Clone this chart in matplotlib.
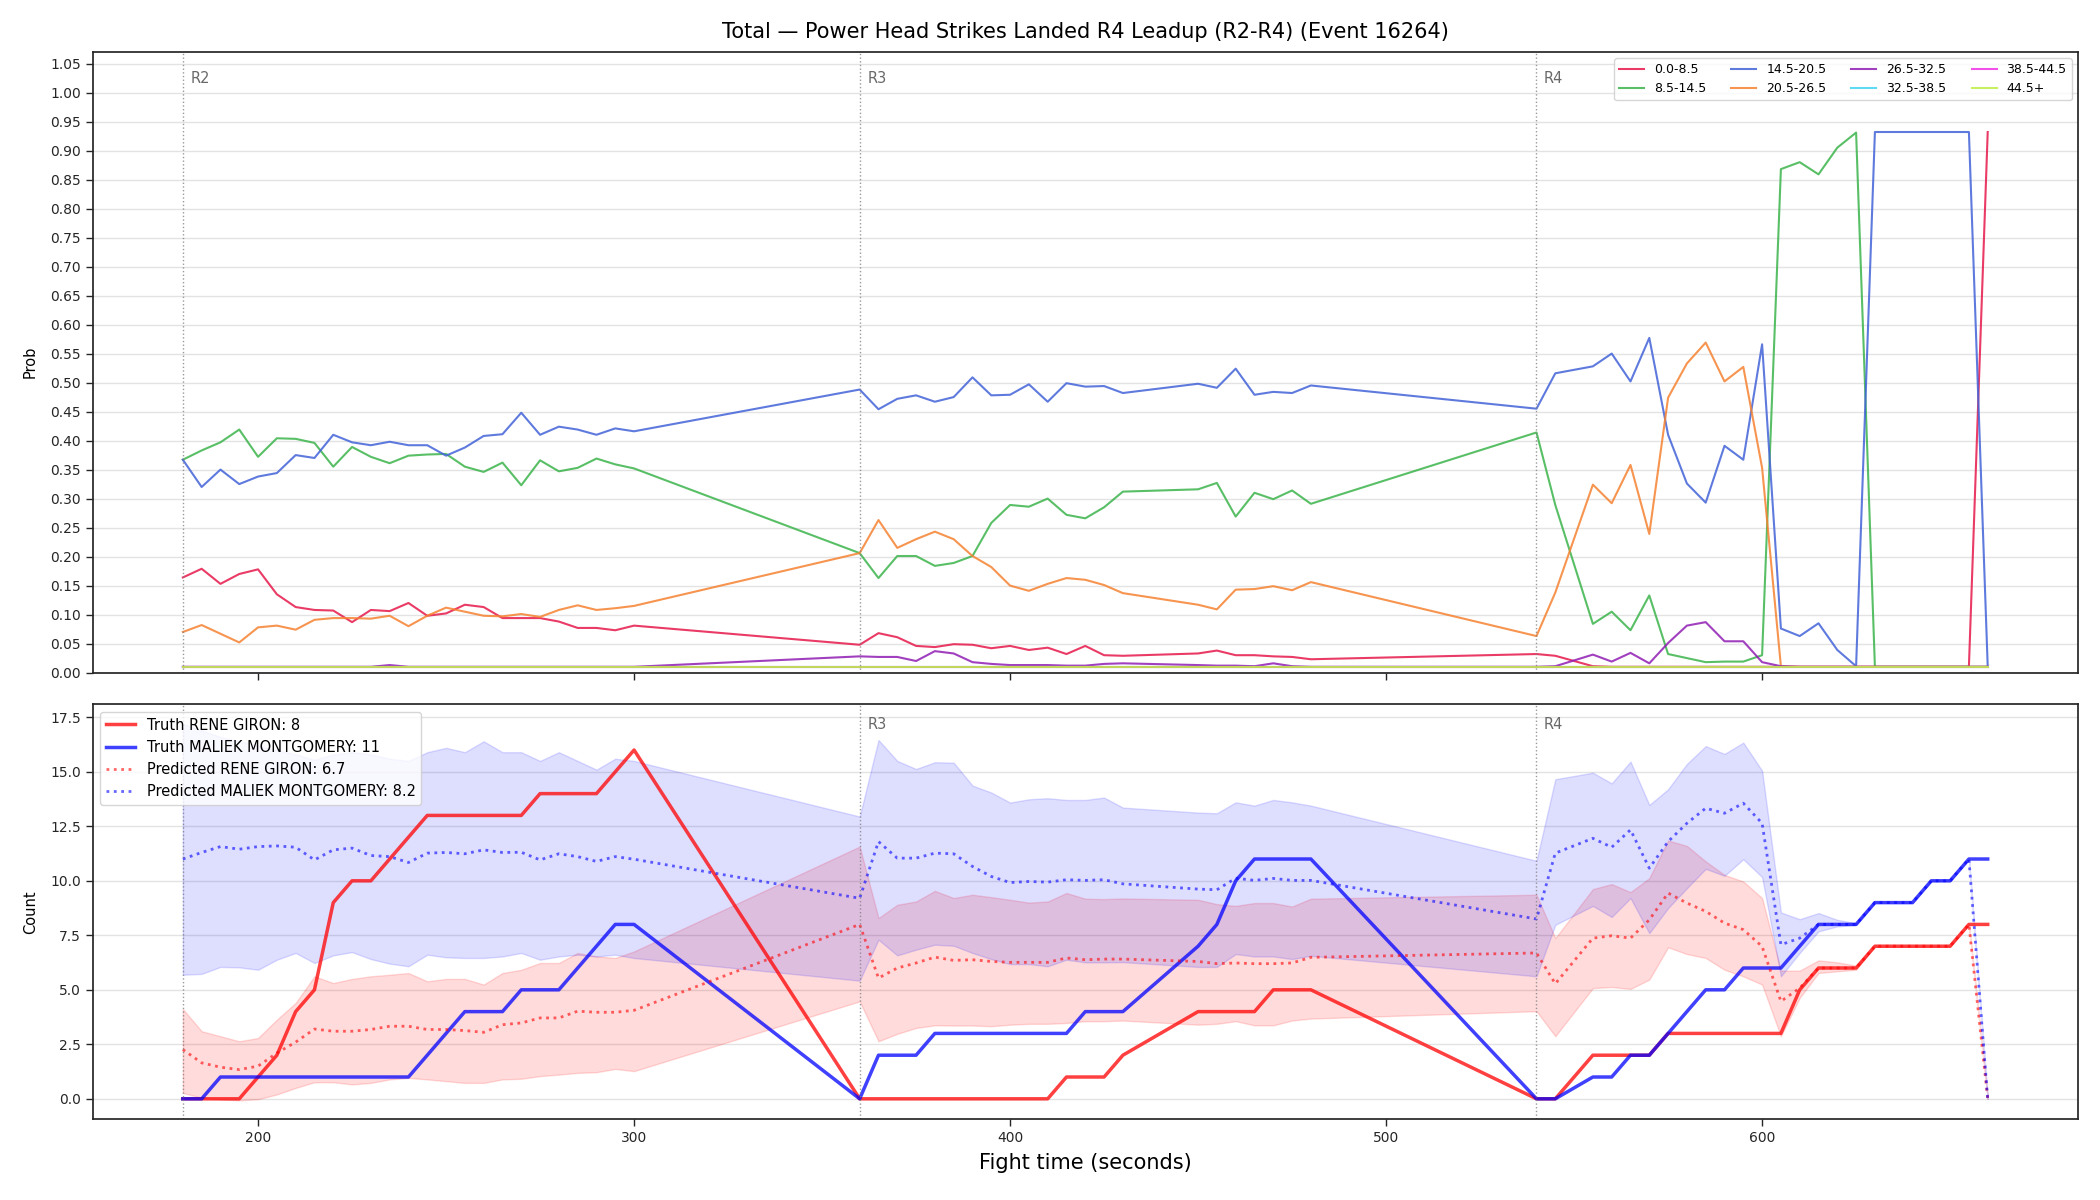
import matplotlib
matplotlib.use("Agg")
import matplotlib.pyplot as plt
import matplotlib.transforms as mtransforms
import numpy as np

# ---------------- data ----------------
t_r2 = [180, 185, 190, 195, 200, 205, 210, 215, 220, 225, 230, 235, 240, 245, 250,
        255, 260, 265, 270, 275, 280, 285, 290, 295, 300]
t_r3 = [360, 365, 370, 375, 380, 385, 390, 395, 400, 405, 410, 415, 420, 425, 430,
        450, 455, 460, 465, 470, 475, 480]
t_r4 = [540, 545, 555, 560, 565, 570, 575, 580, 585, 590, 595, 600, 605, 610, 615,
        620, 625, 630, 635, 640, 645, 650, 655, 660]
times = t_r2 + t_r3 + t_r4

round_starts = [180, 360, 540]
round_names = ["R2", "R3", "R4"]

bucket_labels = ["0.0-8.5", "8.5-14.5", "14.5-20.5", "20.5-26.5",
                 "26.5-32.5", "32.5-38.5", "38.5-44.5", "44.5+"]
bucket_colors = ["#e6194B", "#3cb44b", "#4363d8", "#f58231",
                 "#911eb4", "#42d4f4", "#f032e6", "#bfef45"]

p_0_8 = ([0.164, 0.179, 0.153, 0.170, 0.178, 0.135, 0.113, 0.108, 0.107, 0.087, 0.108, 0.106, 0.120,
          0.098, 0.102, 0.117, 0.113, 0.094, 0.094, 0.094, 0.088, 0.077, 0.077, 0.073, 0.081]
         + [0.048, 0.068, 0.061, 0.046, 0.044, 0.049, 0.048, 0.042, 0.046, 0.039, 0.043, 0.032,
            0.046, 0.030, 0.029, 0.033, 0.038, 0.030, 0.030, 0.028, 0.027, 0.023]
         + [0.032, 0.029, 0.011, 0.01, 0.01, 0.01, 0.01, 0.01, 0.01, 0.01, 0.01, 0.01,
            0.01, 0.01, 0.01, 0.01, 0.01, 0.01, 0.01, 0.01, 0.01, 0.01, 0.01, 0.932])
p_8_14 = ([0.367, 0.383, 0.397, 0.419, 0.372, 0.404, 0.403, 0.396, 0.355, 0.389, 0.372, 0.361, 0.374,
           0.376, 0.377, 0.355, 0.346, 0.362, 0.323, 0.366, 0.347, 0.353, 0.369, 0.359, 0.352]
          + [0.206, 0.163, 0.201, 0.201, 0.184, 0.189, 0.201, 0.258, 0.289, 0.286, 0.300, 0.272,
             0.266, 0.285, 0.312, 0.316, 0.327, 0.269, 0.310, 0.299, 0.314, 0.291]
          + [0.414, 0.289, 0.084, 0.105, 0.073, 0.133, 0.032, 0.025, 0.018, 0.019, 0.019, 0.030,
             0.868, 0.880, 0.859, 0.905, 0.931, 0.01, 0.01, 0.01, 0.01, 0.01, 0.01, 0.01])
p_14_20 = ([0.367, 0.320, 0.350, 0.325, 0.338, 0.344, 0.375, 0.370, 0.410, 0.397, 0.392, 0.398, 0.392,
            0.392, 0.374, 0.388, 0.408, 0.411, 0.448, 0.410, 0.424, 0.419, 0.410, 0.421, 0.416]
           + [0.488, 0.454, 0.472, 0.478, 0.467, 0.475, 0.509, 0.478, 0.479, 0.497, 0.467, 0.499,
              0.493, 0.494, 0.482, 0.498, 0.491, 0.524, 0.479, 0.484, 0.482, 0.495]
           + [0.455, 0.516, 0.528, 0.550, 0.502, 0.577, 0.410, 0.326, 0.293, 0.391, 0.367, 0.566,
              0.076, 0.063, 0.085, 0.039, 0.011, 0.932, 0.932, 0.932, 0.932, 0.932, 0.932, 0.011])
p_20_26 = ([0.070, 0.082, 0.067, 0.052, 0.078, 0.081, 0.074, 0.091, 0.094, 0.094, 0.093, 0.098, 0.080,
            0.098, 0.112, 0.105, 0.098, 0.097, 0.101, 0.096, 0.108, 0.116, 0.108, 0.111, 0.115]
           + [0.206, 0.263, 0.215, 0.230, 0.243, 0.230, 0.201, 0.182, 0.150, 0.141, 0.153, 0.163,
              0.160, 0.151, 0.137, 0.117, 0.109, 0.143, 0.144, 0.149, 0.142, 0.156]
           + [0.063, 0.138, 0.324, 0.292, 0.358, 0.239, 0.474, 0.533, 0.569, 0.502, 0.527, 0.353,
              0.011, 0.01, 0.01, 0.01, 0.01, 0.01, 0.01, 0.01, 0.01, 0.01, 0.01, 0.01])
p_26_32 = ([0.01, 0.01, 0.01, 0.01, 0.01, 0.01, 0.01, 0.01, 0.01, 0.01, 0.01, 0.013, 0.01,
            0.01, 0.01, 0.01, 0.01, 0.01, 0.01, 0.01, 0.01, 0.01, 0.01, 0.01, 0.01]
           + [0.028, 0.027, 0.027, 0.020, 0.037, 0.033, 0.018, 0.015, 0.013, 0.013, 0.013, 0.012,
              0.012, 0.015, 0.016, 0.013, 0.012, 0.012, 0.011, 0.016, 0.011, 0.010]
           + [0.010, 0.011, 0.031, 0.019, 0.034, 0.016, 0.051, 0.081, 0.087, 0.054, 0.054, 0.018,
              0.011, 0.01, 0.01, 0.01, 0.01, 0.01, 0.01, 0.01, 0.01, 0.01, 0.01, 0.01])
p_32_38 = [0.01] * 71
p_38_44 = [0.01] * 71
p_44_up = [0.01] * 71
bucket_probs = [p_0_8, p_8_14, p_14_20, p_20_26, p_26_32, p_32_38, p_38_44, p_44_up]

truth_rene = ([0, 0, 0, 0, 1, 2, 4, 5, 9, 10, 10, 11, 12, 13, 13, 13, 13, 13, 13, 14, 14, 14, 14, 15, 16]
              + [0, 0, 0, 0, 0, 0, 0, 0, 0, 0, 0, 1, 1, 1, 2, 4, 4, 4, 4, 5, 5, 5]
              + [0, 0, 2, 2, 2, 2, 3, 3, 3, 3, 3, 3, 3, 5, 6, 6, 6, 7, 7, 7, 7, 7, 8, 8])
truth_maliek = ([0, 0, 1, 1, 1, 1, 1, 1, 1, 1, 1, 1, 1, 2, 3, 4, 4, 4, 5, 5, 5, 6, 7, 8, 8]
                + [0, 2, 2, 2, 3, 3, 3, 3, 3, 3, 3, 3, 4, 4, 4, 7, 8, 10, 11, 11, 11, 11]
                + [0, 0, 1, 1, 2, 2, 3, 4, 5, 5, 6, 6, 6, 7, 8, 8, 8, 9, 9, 9, 10, 10, 11, 11])
pred_rene = ([2.26, 1.65, 1.45, 1.34, 1.50, 2.10, 2.60, 3.20, 3.10, 3.10, 3.18, 3.33, 3.33, 3.18, 3.18,
              3.13, 3.05, 3.40, 3.48, 3.71, 3.71, 4.02, 3.97, 3.97, 4.06]
             + [8.0, 5.54, 6.0, 6.23, 6.5, 6.35, 6.38, 6.3, 6.26, 6.26, 6.26, 6.46, 6.38, 6.41, 6.41,
                6.3, 6.2, 6.23, 6.2, 6.2, 6.23, 6.49]
             + [6.69, 5.28, 7.37, 7.48, 7.37, 8.21, 9.44, 8.98, 8.6, 8.06, 7.76, 6.99, 4.47, 5.08,
                6.0, 6.0, 6.0, 7.0, 7.0, 7.0, 7.0, 7.0, 8.0, 0.0])
pred_maliek = ([11.0, 11.3, 11.57, 11.45, 11.57, 11.6, 11.54, 10.96, 11.42, 11.5, 11.16, 11.11, 10.84,
                11.27, 11.3, 11.24, 11.42, 11.3, 11.31, 10.96, 11.24, 11.11, 10.89, 11.11, 10.99]
               + [9.2, 11.8, 11.04, 11.04, 11.27, 11.24, 10.66, 10.2, 9.92, 9.97, 9.94, 10.05, 10.02,
                  10.05, 9.86, 9.62, 9.59, 10.12, 10.02, 10.11, 10.02, 10.02]
               + [8.25, 11.27, 11.95, 11.54, 12.34, 10.58, 11.8, 12.64, 13.33, 13.1, 13.56, 12.64,
                  7.07, 7.37, 8.0, 8.0, 8.0, 9.0, 9.0, 9.0, 10.0, 10.0, 11.0, 0.0])
rene_lo = ([0.27, 0.05, -0.03, -0.07, -0.02, 0.2, 0.5, 0.76, 0.76, 0.66, 0.73, 0.89, 0.96, 0.89, 0.81,
            0.73, 0.73, 0.89, 0.92, 1.04, 1.11, 1.19, 1.22, 1.37, 1.27]
           + [4.47, 2.64, 2.98, 3.25, 3.37, 3.36, 3.36, 3.33, 3.40, 3.44, 3.44, 3.48, 3.56, 3.56, 3.59,
              3.40, 3.44, 3.56, 3.37, 3.37, 3.59, 3.68]
           + [4.02, 2.87, 5.08, 5.13, 5.04, 5.47, 6.95, 6.64, 6.46, 5.92, 5.62, 5.24, 2.87, 4.63,
              5.77, 5.85, 5.92, 7.0, 7.0, 7.0, 7.0, 7.0, 8.0, 0.0])
rene_hi = ([4.12, 3.10, 2.87, 2.64, 2.79, 3.63, 4.40, 5.62, 5.31, 5.50, 5.62, 5.69, 5.77, 5.39, 5.50,
            5.50, 5.24, 5.77, 5.92, 6.23, 6.23, 6.69, 6.53, 6.46, 6.76]
           + [11.57, 8.29, 8.9, 9.05, 9.54, 9.21, 9.36, 9.25, 9.13, 9.0, 9.05, 9.44, 9.18, 9.16, 9.19,
              9.13, 8.93, 8.85, 8.98, 8.98, 8.82, 9.18]
           + [9.36, 7.37, 9.62, 9.85, 9.48, 10.12, 11.85, 11.6, 10.89, 10.27, 9.97, 9.21, 5.88, 5.88,
              6.35, 6.26, 6.11, 7.0, 7.0, 7.0, 7.0, 7.0, 8.0, 0.0])
maliek_lo = ([5.69, 5.73, 6.05, 6.03, 5.92, 6.38, 6.69, 6.23, 6.58, 6.73, 6.41, 6.20, 6.08, 6.61, 6.49,
              6.46, 6.46, 6.53, 6.69, 6.38, 6.53, 6.61, 6.53, 6.61, 6.46]
             + [5.42, 7.3, 6.58, 6.84, 7.07, 7.02, 6.69, 6.41, 6.18, 6.18, 6.08, 6.38, 6.26, 6.26, 6.27,
                6.05, 6.05, 6.64, 6.53, 6.53, 6.41, 6.56]
             + [5.62, 7.98, 8.85, 8.34, 9.21, 7.6, 8.75, 9.66, 10.55, 10.23, 10.99, 10.17, 5.62, 6.69,
                7.68, 7.91, 7.98, 9.0, 9.0, 9.0, 10.0, 10.0, 11.0, 0.0])
maliek_hi = ([17.2, 16.9, 16.6, 16.4, 16.2, 16.0, 15.8, 15.55, 15.8, 15.9, 15.8, 15.6, 15.5, 15.9, 16.1,
              15.9, 16.4, 15.9, 15.9, 15.5, 15.9, 15.5, 15.1, 15.6, 15.5]
             + [12.95, 16.46, 15.5, 15.13, 15.44, 15.42, 14.37, 14.05, 13.59, 13.74, 13.79, 13.71, 13.71,
                13.82, 13.36, 13.13, 13.1, 13.6, 13.45, 13.71, 13.6, 13.45]
             + [10.92, 14.66, 14.96, 14.47, 15.47, 13.48, 14.2, 15.36, 16.18, 15.82, 16.34, 15.05, 8.55,
                8.24, 8.52, 8.21, 8.06, 9.0, 9.0, 9.0, 10.0, 10.0, 11.0, 0.0])

fighter_a = "RENE GIRON"
fighter_b = "MALIEK MONTGOMERY"
final_truth_a, final_truth_b = 8, 11
final_pred_a, final_pred_b = 6.7, 8.2

title = "Total \u2014 Power Head Strikes Landed R4 Leadup (R2-R4) (Event 16264)"

# ---------------- style ----------------
plt.rcParams.update({
    "axes.edgecolor": ".15",
    "axes.linewidth": 1.25,
    "xtick.color": ".15",
    "ytick.color": ".15",
    "xtick.major.size": 4.8,
    "ytick.major.size": 4.8,
    "xtick.major.width": 1.0,
    "ytick.major.width": 1.0,
    "font.size": 10,
})

fig = plt.figure(figsize=(21, 12), dpi=100)
ax1 = fig.add_axes([0.0441, 0.4395, 0.9454, 0.5172])
ax2 = fig.add_axes([0.0441, 0.06725, 0.9454, 0.3457], sharex=ax1)

# ---- top panel ----
for lab, col, pr in zip(bucket_labels, bucket_colors, bucket_probs):
    ax1.plot(times, pr, color=col, lw=1.5, alpha=0.85, label=lab)

ax1.set_ylim(0, 1.07)
ax1.set_yticks(np.arange(0, 1.0501, 0.05))
ax1.set_yticklabels([f"{v:.2f}" for v in np.arange(0, 1.0501, 0.05)])
ax1.set_ylabel("Prob", fontsize=10.5, labelpad=9)
ax1.grid(axis="y", color="#e3e3e3", lw=1)
ax1.set_axisbelow(True)
ax1.tick_params(labelbottom=False)
ax1.legend(ncol=4, loc="upper right", fontsize=9, framealpha=0.8)
ax1.set_title(title, fontsize=15, pad=10)

# ---- bottom panel ----
ax2.fill_between(times, rene_lo, rene_hi, color="red", alpha=0.14)
ax2.fill_between(times, maliek_lo, maliek_hi, color="blue", alpha=0.13)
ax2.plot(times, truth_rene, color="red", lw=2.5, alpha=0.75,
         label=f"Truth {fighter_a}: {final_truth_a}")
ax2.plot(times, truth_maliek, color="blue", lw=2.5, alpha=0.75,
         label=f"Truth {fighter_b}: {final_truth_b}")
ax2.plot(times, pred_rene, color="red", lw=2, ls=":", alpha=0.6,
         label=f"Predicted {fighter_a}: {final_pred_a}")
ax2.plot(times, pred_maliek, color="blue", lw=2, ls=":", alpha=0.6,
         label=f"Predicted {fighter_b}: {final_pred_b}")
ax2.set_ylim(-0.94, 18.09)
ax2.set_yticks(np.arange(0, 17.51, 2.5))
ax2.set_ylabel("Count", fontsize=10.5, labelpad=9)
ax2.set_xlabel("Fight time (seconds)", fontsize=15, labelpad=6)
ax2.grid(axis="y", color="#e3e3e3", lw=1)
ax2.set_axisbelow(True)
ax2.legend(loc="upper left", fontsize=10.5, framealpha=0.8)

for ax, show_first in ((ax1, True), (ax2, False)):
    trans = mtransforms.blended_transform_factory(ax.transData, ax.transAxes)
    for i, (rs, rn) in enumerate(zip(round_starts, round_names)):
        ax.axvline(rs, color="gray", ls=":", lw=1, alpha=0.8)
        if i == 0 and not show_first:
            continue  # hidden beneath the legend in the reference
        ax.text(rs + 2, 0.97, rn, transform=trans, va="top", ha="left",
                color="dimgray", fontsize=10.5)

ax1.set_xlim(156, 684)

fig.savefig("out.png", dpi=100)
